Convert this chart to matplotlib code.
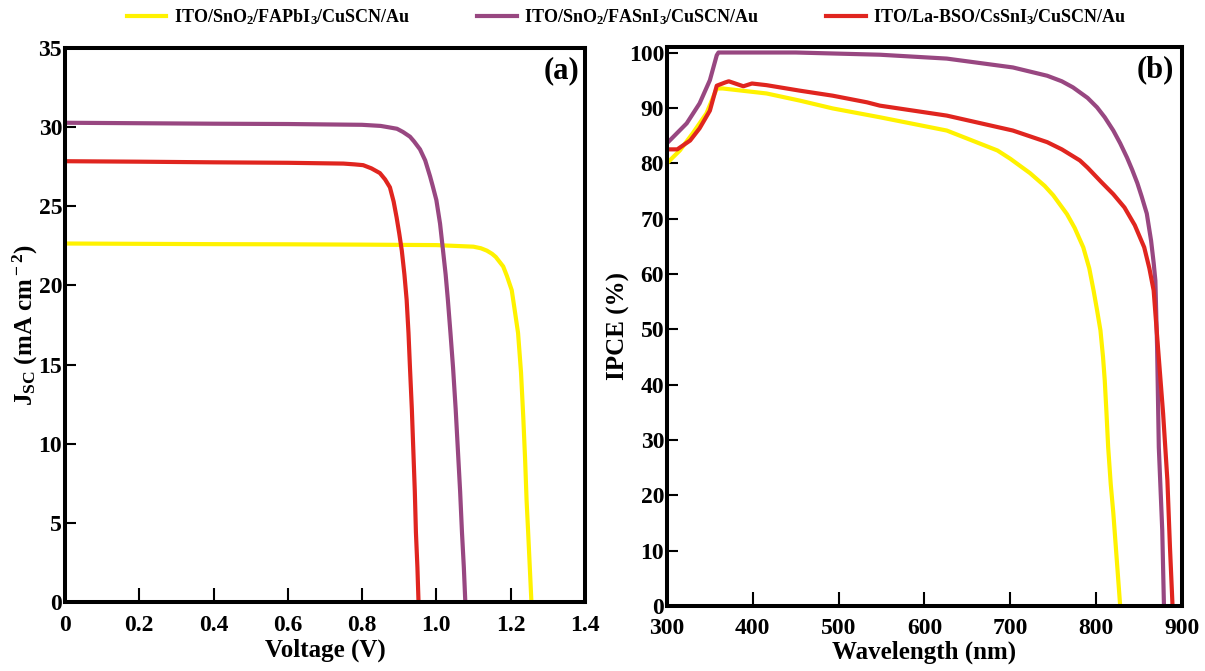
import matplotlib
matplotlib.use("Agg")
import matplotlib.pyplot as plt

plt.rcParams["font.family"] = "Liberation Serif"
plt.rcParams["font.weight"] = "bold"
plt.rcParams["axes.labelweight"] = "bold"
plt.rcParams["mathtext.fontset"] = "custom"
plt.rcParams["mathtext.rm"] = "Liberation Serif:bold"
plt.rcParams["mathtext.it"] = "Liberation Serif:bold"
plt.rcParams["mathtext.bf"] = "Liberation Serif:bold"
plt.rcParams["mathtext.default"] = "rm"

# device labels and colours
labels = ["ITO/SnO$_2$/FAPbI$_3$/CuSCN/Au",
          "ITO/SnO$_2$/FASnI$_3$/CuSCN/Au",
          "ITO/La-BSO/CsSnI$_3$/CuSCN/Au"]
colors = ["#FFF200", "#984781", "#E0251F"]

# J-V curves (V, mA cm^-2)
v_fapbi = [0, 0.2, 0.4, 0.6, 0.8, 1.0, 1.1, 1.12, 1.136, 1.15, 1.16, 1.17, 1.18, 1.19, 1.203,
           1.21, 1.22, 1.228, 1.234, 1.239, 1.243, 1.247, 1.25, 1.256]
j_fapbi = [22.65, 22.63, 22.61, 22.6, 22.58, 22.55, 22.45, 22.35, 22.2, 22.0, 21.8, 21.5, 21.2, 20.6, 19.7,
           18.6, 17.0, 14.5, 11.7, 9.0, 6.4, 4.5, 3.0, 0.0]

v_fasni = [0, 0.2, 0.4, 0.6, 0.8, 0.85, 0.87, 0.894, 0.91, 0.929, 0.94, 0.956, 0.97, 0.983, 0.99, 1.0,
           1.01, 1.018, 1.025, 1.031, 1.038, 1.045, 1.052, 1.058, 1.064, 1.069, 1.074, 1.078]
j_fasni = [30.28, 30.25, 30.22, 30.2, 30.15, 30.08, 30.0, 29.9, 29.7, 29.4, 29.1, 28.6, 27.9, 26.9, 26.3, 25.4,
           23.9, 22.2, 20.7, 19.1, 17.0, 14.8, 12.2, 9.6, 7.0, 4.4, 2.2, 0.0]

v_cssni = [0, 0.2, 0.4, 0.6, 0.75, 0.78, 0.803, 0.825, 0.848, 0.862, 0.875, 0.885, 0.893, 0.9, 0.907,
           0.914, 0.92, 0.925, 0.929, 0.934, 0.938, 0.942, 0.945, 0.949, 0.952]
j_cssni = [27.85, 27.82, 27.78, 27.75, 27.7, 27.65, 27.6, 27.4, 27.1, 26.7, 26.2, 25.3, 24.3, 23.3, 22.2,
           20.7, 19.1, 17.0, 14.8, 12.2, 9.6, 7.0, 4.4, 2.2, 0.0]

# IPCE spectra (nm, %)
wl_fapbi = [300, 315, 330, 346, 358, 365, 416, 455, 493, 548, 626, 685, 700, 723, 740, 750, 766, 775,
            785, 792, 797, 801, 805, 808, 810, 812, 814, 817, 820, 828]
ipce_fapbi = [80, 82.3, 85.4, 89, 93.5, 93.5, 92.6, 91.3, 89.9, 88.3, 85.9, 82.3, 80.8, 78.2, 75.9, 74.2, 70.8, 68.3,
              64.8, 61, 57, 53.5, 49.8, 45, 40.8, 35, 28.7, 22, 16.8, 0]

wl_fasni = [300, 323, 338, 350, 358, 360, 450, 548, 626, 703, 743, 760, 773, 790, 801, 810, 820, 828,
            836, 842, 848, 853, 859, 864, 867, 869, 871, 873, 877, 879]
ipce_fasni = [83.6, 87.2, 90.8, 95, 99.5, 100, 100, 99.6, 98.9, 97.3, 95.8, 94.8, 93.7, 91.8, 90.1, 88.3, 85.9, 83.6,
              81, 78.8, 76.4, 74, 70.9, 66, 62, 58.8, 46.8, 28.7, 13.7, 0]

wl_cssni = [300, 312, 327, 338, 350, 358, 368, 372, 389, 399, 416, 455, 493, 533, 548, 626, 703, 743, 760,
            781, 790, 806, 820, 833, 845, 856, 862, 867, 872, 878, 883, 886, 889]
ipce_cssni = [82.5, 82.5, 84.1, 86.3, 89.5, 94, 94.6, 94.8, 93.9, 94.4, 94.1, 93.1, 92.2, 91, 90.4, 88.6, 85.9, 83.8, 82.5,
              80.5, 79.2, 76.6, 74.4, 72, 68.8, 64.8, 61, 57, 46.8, 34.8, 22.7, 10.6, 0]


def style_axes(ax):
    for s in ax.spines.values():
        s.set_linewidth(2.9)
    ax.tick_params(axis="both", direction="in", width=1.5, labelsize=17,
                   top=False, right=False)
    ax.tick_params(axis="x", length=10, pad=9)
    ax.tick_params(axis="y", length=8, pad=2)


fig = plt.figure(figsize=(12.05, 6.71), dpi=100)
ax1 = fig.add_axes([0.0539, 0.1028, 0.4315, 0.8256])
ax2 = fig.add_axes([0.5535, 0.0969, 0.4274, 0.8331])

lw = 3
for v, j, c, lab in zip([v_fapbi, v_fasni, v_cssni], [j_fapbi, j_fasni, j_cssni], colors, labels):
    ax1.plot(v, j, color=c, lw=lw, label=lab, solid_joinstyle="round")
ax1.set_xlim(0, 1.4)
ax1.set_ylim(0, 35)
ax1.set_xticks([0, 0.2, 0.4, 0.6, 0.8, 1.0, 1.2, 1.4])
ax1.set_xticklabels(["0", "0.2", "0.4", "0.6", "0.8", "1.0", "1.2", "1.4"])
ax1.set_yticks(range(0, 36, 5))
ax1.set_xlabel("Voltage (V)", fontsize=18, labelpad=2)
ax1.set_ylabel("J$_{\\rm SC}$ (mA cm$^{\\rm -2}$)", fontsize=18, labelpad=-1)
ax1.text(0.99, 0.985, "(a)", transform=ax1.transAxes, ha="right", va="top", fontsize=22)
style_axes(ax1)

for w, q, c in zip([wl_fapbi, wl_fasni, wl_cssni], [ipce_fapbi, ipce_fasni, ipce_cssni], colors):
    ax2.plot(w, q, color=c, lw=lw, solid_joinstyle="round")
ax2.set_xlim(300, 900)
ax2.set_ylim(0, 101)
ax2.set_xticks(range(300, 901, 100))
ax2.set_yticks(range(0, 101, 10))
ax2.set_xlabel("Wavelength (nm)", fontsize=18, labelpad=1)
ax2.set_ylabel("IPCE (%)", fontsize=18, labelpad=-1)
ax2.text(0.985, 0.985, "(b)", transform=ax2.transAxes, ha="right", va="top", fontsize=22)
style_axes(ax2)

fig.legend(loc="center", bbox_to_anchor=(0.52, 0.975), ncol=3, frameon=False,
           fontsize=13, handlelength=2.2, handletextpad=0.4, columnspacing=3.7)

fig.savefig("out.png", dpi=100)
